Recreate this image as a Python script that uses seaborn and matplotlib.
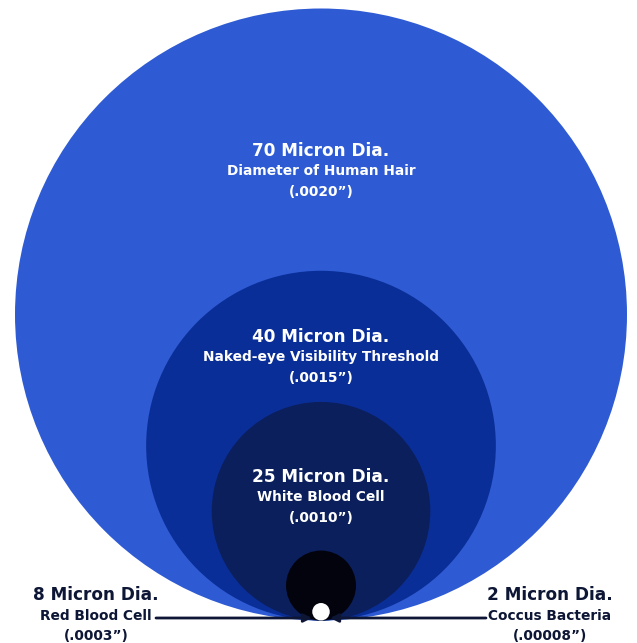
import matplotlib
matplotlib.use("Agg")
from matplotlib import pyplot as plt
from matplotlib.patches import Circle
import seaborn as sns

# particle sizes, largest first
diameters = [70, 40, 25, 8, 2]
headlines = ["70 Micron Dia.", "40 Micron Dia.", "25 Micron Dia.", "8 Micron Dia.", "2 Micron Dia."]
names = ["Diameter of Human Hair", "Naked-eye Visibility Threshold", "White Blood Cell",
         "Red Blood Cell", "Coccus Bacteria"]
inches = ["(.0020\u201d)", "(.0015\u201d)", "(.0010\u201d)", "(.0003\u201d)", "(.00008\u201d)"]
fills = ["#2e5bd3", "#0a2e98", "#0b1f5c", "#02030c", "#ffffff"]

sns.set_theme(style="white")
plt.rcParams['font.family'] = ['DejaVu Sans']

fig = plt.figure(figsize=(6.37, 6.43), dpi=100)
ax = fig.add_axes([0, 0, 1, 1])

# pixels per micron in the picture
s = 612 / 70
ax.set_xlim(-321 / s, (637 - 321) / s)
ax.set_ylim(-(643 - 620.5) / s, 620.5 / s)
ax.set_aspect("equal")
ax.axis("off")

# nested circles all resting on the same baseline
for d, c in zip(diameters, fills):
    ax.add_patch(Circle((0, d / 2), d / 2, facecolor=c, edgecolor="none", zorder=2))

def py(ypx):
    return (620.5 - ypx) / s

# labels inside the three big circles
label_y = [151, 337, 477]
for i, y0 in enumerate(label_y):
    ax.text(0, py(y0), headlines[i], color="white", fontsize=12.2, fontweight="bold",
            ha="center", va="center", zorder=5)
    ax.text(0, py(y0 + 20), names[i], color="white", fontsize=9.9, fontweight="bold",
            ha="center", va="center", zorder=5)
    ax.text(0, py(y0 + 41), inches[i], color="white", fontsize=9.9, fontweight="bold",
            ha="center", va="center", zorder=5)

# side labels for the two small ones
navy = "#0d1635"
side_x = [(96 - 321) / s, (550 - 321) / s]
for j, i in enumerate([3, 4]):
    x0 = side_x[j]
    ax.text(x0, py(595), headlines[i], color=navy, fontsize=12.2, fontweight="bold",
            ha="center", va="center", zorder=5)
    ax.text(x0, py(616), names[i], color=navy, fontsize=9.9, fontweight="bold",
            ha="center", va="center", zorder=5)
    ax.text(x0, py(636), inches[i], color=navy, fontsize=9.9, fontweight="bold",
            ha="center", va="center", zorder=5)

# pointer lines
ly = py(618)
ax.annotate("", xy=((312 - 321) / s, ly), xytext=((156 - 321) / s, ly),
            arrowprops=dict(arrowstyle="-|>", color=navy, lw=2, mutation_scale=12,
                            shrinkA=0, shrinkB=0), zorder=6)
ax.annotate("", xy=((330 - 321) / s, ly), xytext=((486 - 321) / s, ly),
            arrowprops=dict(arrowstyle="-|>", color=navy, lw=2, mutation_scale=12,
                            shrinkA=0, shrinkB=0), zorder=6)

plt.savefig("out.png", dpi=100, facecolor="white")
